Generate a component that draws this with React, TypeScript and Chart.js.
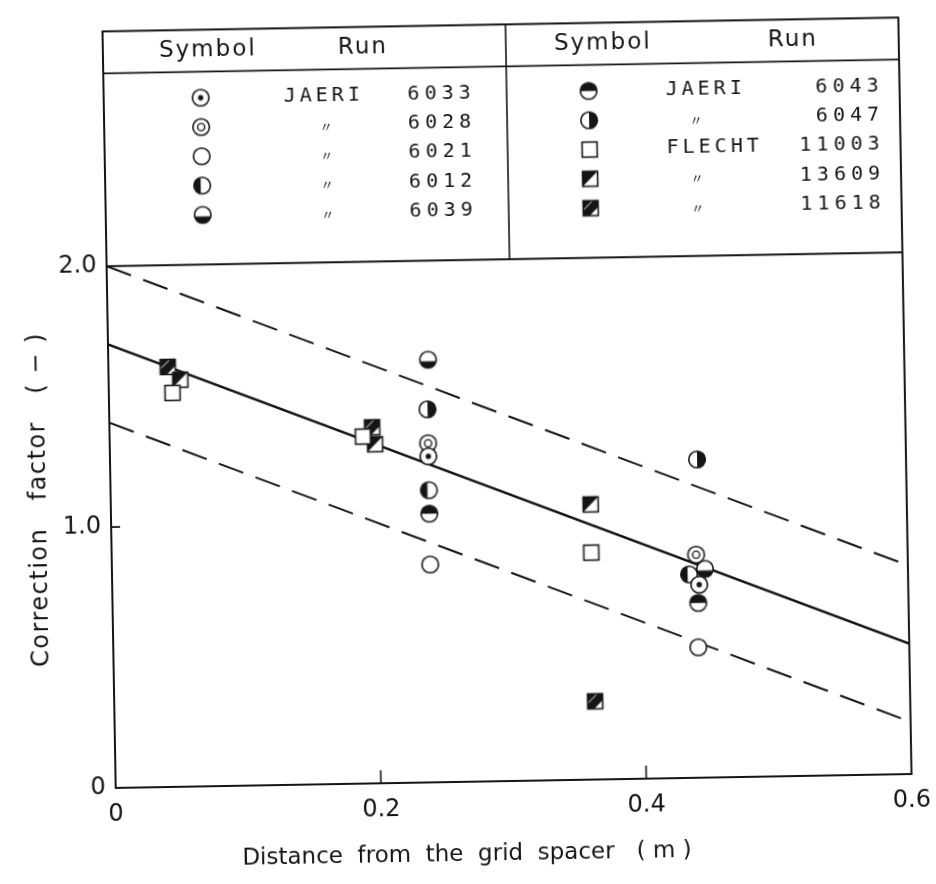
import React, { useEffect, useRef } from 'react';
import { Chart, registerables } from 'chart.js';

Chart.register(...registerables);

// ---- axis ticks ----
const xTickValues = [0, 0.2, 0.4, 0.6];
const xTickLabels = ['0', '0.2', '0.4', '0.6'];
const yTickValues = [0, 1, 2];
const yTickLabels = ['0', '1.0', '2.0'];

// ---- correlation lines ----
const lineX = [0, 0.6];
const meanLineY = [1.7, 0.5];
const upperLineY = [2.0, 0.8];
const lowerLineY = [1.4, 0.2];

// ---- data series (x: distance from grid spacer, y: correction factor) ----
const run6033X = [0.24, 0.4425];
const run6033Y = [1.25, 0.74];
const run6028X = [0.24, 0.4405];
const run6028Y = [1.3, 0.855];
const run6021X = [0.24, 0.441];
const run6021Y = [0.835, 0.5];
const run6012X = [0.24, 0.435];
const run6012Y = [1.12, 0.78];
const run6039X = [0.241, 0.447];
const run6039Y = [1.62, 0.8];
const run6043X = [0.24, 0.4415];
const run6043Y = [1.03, 0.67];
const run6047X = [0.24, 0.4425];
const run6047Y = [1.43, 1.22];
const run11003X = [0.048, 0.191, 0.3615];
const run11003Y = [1.51, 1.33, 0.87];
const run13609X = [0.054, 0.2, 0.3617];
const run13609Y = [1.56, 1.3, 1.055];
const run11618X = [0.0448, 0.198, 0.3625];
const run11618Y = [1.61, 1.365, 0.3];

const runNames = ['6033', '6028', '6021', '6012', '6039', '6043', '6047', '11003', '13609', '11618'];
const runXs = [run6033X, run6028X, run6021X, run6012X, run6039X, run6043X, run6047X, run11003X, run13609X, run11618X];
const runYs = [run6033Y, run6028Y, run6021Y, run6012Y, run6039Y, run6043Y, run6047Y, run11003Y, run13609Y, run11618Y];

// ---- legend table ----
const legendLeftRuns = ['6033', '6028', '6021', '6012', '6039'];
const legendLeftFacility = ['JAERI', '〃', '〃', '〃', '〃'];
const legendRightRuns = ['6043', '6047', '11003', '13609', '11618'];
const legendRightFacility = ['JAERI', '〃', 'FLECHT', '〃', '〃'];

const xTitle = 'Distance  from  the  grid  spacer   ( m )';
const yTitle = 'Correction   factor   ( − )';

const INK = '#151515';

function makeMarker(kind: string): HTMLCanvasElement {
  const c = document.createElement('canvas');
  c.width = 22;
  c.height = 22;
  const g = c.getContext('2d') as CanvasRenderingContext2D;
  const cx = 11, cy = 11, r = 8.3;
  g.lineWidth = 1.6;
  g.strokeStyle = INK;
  const square = kind === '11003' || kind === '13609' || kind === '11618';
  if (!square) {
    g.beginPath();
    g.arc(cx, cy, r, 0, Math.PI * 2);
    g.fillStyle = '#fff';
    g.fill();
    g.save();
    g.beginPath();
    g.arc(cx, cy, r, 0, Math.PI * 2);
    g.clip();
    g.fillStyle = INK;
    if (kind === '6012') g.fillRect(0, 0, cx - 1.5, 22);
    if (kind === '6039') g.fillRect(0, cy + 1.5, 22, 22);
    if (kind === '6043') g.fillRect(0, 0, 22, cy);
    if (kind === '6047') g.fillRect(cx, 0, 22, 22);
    g.restore();
    g.beginPath();
    g.arc(cx, cy, r, 0, Math.PI * 2);
    g.stroke();
    if (kind === '6033') {
      g.beginPath();
      g.arc(cx, cy, 2.7, 0, Math.PI * 2);
      g.fillStyle = INK;
      g.fill();
    }
    if (kind === '6028') {
      g.beginPath();
      g.lineWidth = 1.4;
      g.arc(cx, cy, 3.6, 0, Math.PI * 2);
      g.stroke();
    }
  } else {
    const s = 7.5;
    g.fillStyle = '#fff';
    g.fillRect(cx - s, cy - s, 2 * s, 2 * s);
    g.fillStyle = INK;
    if (kind === '13609') {
      g.beginPath();
      g.moveTo(cx - s, cy - s);
      g.lineTo(cx + s, cy - s);
      g.lineTo(cx - s, cy + s);
      g.closePath();
      g.fill();
    }
    if (kind === '11618') {
      g.beginPath();
      g.moveTo(cx - s, cy - s);
      g.lineTo(cx + s, cy - s);
      g.lineTo(cx + s, cy - 1);
      g.lineTo(cx - 1, cy + s);
      g.lineTo(cx - s, cy + s);
      g.closePath();
      g.fill();
      g.strokeStyle = '#fff';
      g.lineWidth = 1;
      g.beginPath();
      g.moveTo(cx - s, cy + 2);
      g.lineTo(cx + 2, cy - s);
      g.stroke();
      g.strokeStyle = INK;
      g.lineWidth = 1.6;
    }
    g.strokeRect(cx - s, cy - s, 2 * s, 2 * s);
  }
  return c;
}

function spacedText(ctx: CanvasRenderingContext2D, text: string, x: number, y: number, align: 'left' | 'right' | 'center', spacing: number) {
  (ctx as any).letterSpacing = spacing + 'px';
  const w = ctx.measureText(text).width - spacing;
  let left = x;
  if (align === 'right') left = x - w;
  if (align === 'center') left = x - w / 2;
  ctx.textAlign = 'left';
  ctx.fillText(text, left, y);
  (ctx as any).letterSpacing = '0px';
}

export default function App() {
  const ref = useRef<HTMLCanvasElement>(null);

  useEffect(() => {
    const markers: Record<string, HTMLCanvasElement> = {};
    runNames.forEach((k) => (markers[k] = makeMarker(k)));

    const framePlugin = {
      id: 'frameAndTable',
      beforeDatasetsDraw(chart: any) {
        const { ctx, chartArea: a, scales } = chart;
        const y = scales.y;
        const x = scales.x;
        ctx.save();
        ctx.strokeStyle = INK;
        ctx.lineWidth = 2;
        ctx.strokeRect(a.left, a.top, a.right - a.left, a.bottom - a.top);
        const y2 = y.getPixelForValue(2);
        ctx.beginPath();
        ctx.moveTo(a.left, y2);
        ctx.lineTo(a.right, y2);
        ctx.stroke();
        ctx.lineWidth = 1.6;
        ctx.beginPath();
        const y1 = y.getPixelForValue(1);
        ctx.moveTo(a.left, y1);
        ctx.lineTo(a.left + 9, y1);
        [0.2, 0.4].forEach((v) => {
          const px = x.getPixelForValue(v);
          ctx.moveTo(px, a.bottom);
          ctx.lineTo(px, a.bottom - 13);
        });
        ctx.stroke();
        ctx.restore();
      },
      afterDraw(chart: any) {
        const { ctx, chartArea: a, scales } = chart;
        const y2 = scales.y.getPixelForValue(2);
        const L = a.left;
        const T = a.top;
        ctx.save();
        ctx.strokeStyle = INK;
        ctx.fillStyle = INK;
        ctx.lineWidth = 1.6;
        // header separator and divider
        ctx.beginPath();
        ctx.moveTo(L, T + 42);
        ctx.lineTo(a.right, T + 42);
        ctx.moveTo(L + 403, T);
        ctx.lineTo(L + 403, y2);
        ctx.stroke();
        // headers
        ctx.textBaseline = 'middle';
        ctx.font = '23px "DejaVu Sans"';
        spacedText(ctx, 'Symbol', L + 104, T + 21, 'center', 2);
        spacedText(ctx, 'Run', L + 259, T + 21, 'center', 2);
        spacedText(ctx, 'Symbol', L + 499, T + 21, 'center', 2);
        spacedText(ctx, 'Run', L + 689, T + 21, 'center', 2);
        // rows
        const rowY = (i: number) => T + 68 + i * 29.3;
        const drawSide = (runs: string[], fac: string[], symX: number, facX: number, dittoX: number, numR: number) => {
          runs.forEach((run, i) => {
            const yy = rowY(i);
            const m = markers[run];
            ctx.drawImage(m, L + symX - m.width / 2, yy - m.height / 2);
            if (fac[i] === '〃') {
              ctx.font = '13px "Noto Sans CJK JP"';
              spacedText(ctx, fac[i], L + dittoX, yy + 1, 'center', 0);
            } else {
              ctx.font = '20px "DejaVu Sans Mono"';
              spacedText(ctx, fac[i], L + facX, yy, 'left', 4);
            }
            ctx.font = '20px "DejaVu Sans Mono"';
            spacedText(ctx, run, L + numR, yy, 'right', 5);
          });
        };
        drawSide(legendLeftRuns, legendLeftFacility, 97, 180, 222, 367);
        drawSide(legendRightRuns, legendRightFacility, 485, 562, 592, 775);
        // axis titles
        ctx.font = '23px "DejaVu Sans"';
        spacedText(ctx, xTitle, L + 350, a.bottom + 73, 'center', 0);
        ctx.translate(38, 492);
        ctx.rotate(-Math.PI / 2);
        ctx.font = '24px "DejaVu Sans"';
        spacedText(ctx, yTitle, 0, 0, 'center', 1.5);
        ctx.restore();
      },
    };

    const lineDs = (ys: number[], dash: number[], width: number) => ({
      data: lineX.map((x, i) => ({ x, y: ys[i] })),
      showLine: true,
      borderColor: INK,
      borderWidth: width,
      borderDash: dash,
      pointRadius: 0,
      order: 10,
    });

    const markerDs = runNames.map((name, k) => ({
      label: name,
      data: runXs[k].map((x, i) => ({ x, y: runYs[k][i] })),
      pointStyle: markers[name],
      pointRadius: 8,
      showLine: false,
      order: 0,
    }));

    const chart = new Chart(ref.current as HTMLCanvasElement, {
      type: 'scatter',
      data: {
        datasets: [
          lineDs(meanLineY, [], 2.4),
          lineDs(upperLineY, [26, 13], 2),
          lineDs(lowerLineY, [26, 13], 2),
          ...markerDs,
        ] as any,
      },
      options: {
        responsive: false,
        devicePixelRatio: 1,
        animation: false,
        layout: { padding: { top: 15, right: 27, left: 0, bottom: 0 } },
        plugins: { legend: { display: false }, tooltip: { enabled: false } },
        scales: {
          x: {
            type: 'linear',
            min: 0,
            max: 0.6,
            afterBuildTicks: (s: any) => {
              s.ticks = xTickValues.map((v) => ({ value: v }));
            },
            afterFit: (s: any) => {
              s.height = 103;
            },
            ticks: {
              callback: (_v: any, i: number) => xTickLabels[i],
              font: { family: 'DejaVu Sans', size: 24 },
              color: INK,
              padding: 12,
              maxRotation: 0,
              autoSkip: false,
            },
            grid: { display: false, drawTicks: false },
            border: { display: false },
          },
          y: {
            type: 'linear',
            min: 0,
            max: 2.9,
            afterBuildTicks: (s: any) => {
              s.ticks = yTickValues.map((v) => ({ value: v }));
            },
            afterFit: (s: any) => {
              s.width = 109;
            },
            ticks: {
              callback: (_v: any, i: number) => yTickLabels[i],
              font: { family: 'DejaVu Sans', size: 24 },
              color: INK,
              padding: 10,
              autoSkip: false,
            },
            grid: { display: false, drawTicks: false },
            border: { display: false },
          },
        },
      },
      plugins: [framePlugin],
    });
    return () => chart.destroy();
  }, []);

  return (
    <div style={{ position: 'absolute', left: 0, top: 0, width: 936, height: 884, overflow: 'hidden', background: '#fff' }}>
      <canvas
        ref={ref}
        width={936}
        height={884}
        style={{ width: 936, height: 884, display: 'block', transform: 'rotate(-1deg)', transformOrigin: '509px 400px' }}
      />
    </div>
  );
}
